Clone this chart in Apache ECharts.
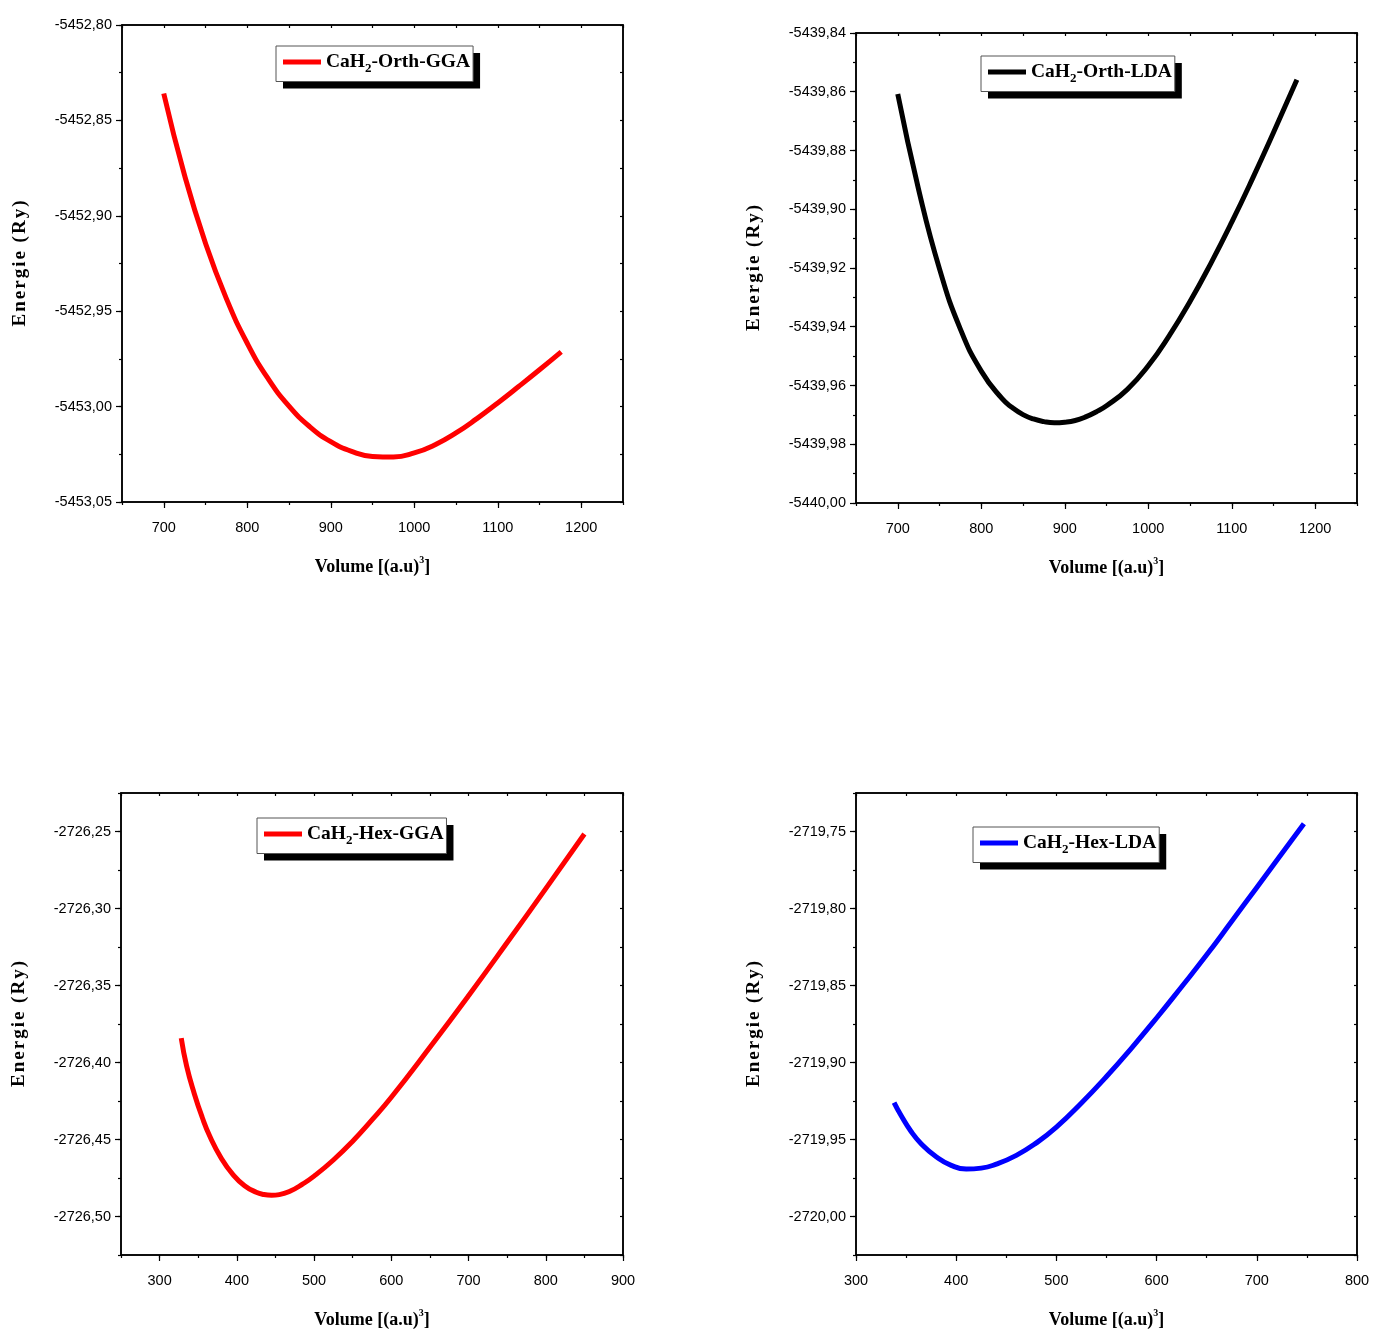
<!DOCTYPE html>
<html><head><meta charset="utf-8">
<script src="https://cdn.jsdelivr.net/npm/echarts@6/dist/echarts.min.js"></script>
<style>html,body{margin:0;padding:0;background:#fff}#c{width:1373px;height:1332px}</style>
</head><body><div id="c"></div>
<script>
// ---- Data ----
const volOrthGGA = [700, 725, 750, 775, 800, 825, 850, 875, 900, 925, 950, 975, 1000, 1025, 1050, 1075, 1100, 1125, 1150, 1176];
const eOrthGGA = [-5452.8359, -5452.8789, -5452.9144, -5452.9434, -5452.9668, -5452.9854, -5452.9998, -5453.0106, -5453.0184, -5453.0235, -5453.0261, -5453.0264, -5453.0243, -5453.0200, -5453.0138, -5453.0063, -5452.9981, -5452.9895, -5452.9807, -5452.9713];

const volOrthLDA = [700, 725, 750, 775, 800, 825, 837.5, 850, 862.5, 875, 887.5, 900, 912.5, 925, 937.5, 950, 975, 1000, 1025, 1050, 1075, 1100, 1125, 1150, 1178];
const eOrthLDA = [-5439.8608, -5439.8933, -5439.9203, -5439.9408, -5439.9551, -5439.9645, -5439.9676, -5439.9699, -5439.9714, -5439.9723, -5439.9727, -5439.9725, -5439.9719, -5439.9707, -5439.9690, -5439.9669, -5439.9613, -5439.9533, -5439.9431, -5439.9314, -5439.9184, -5439.9044, -5439.8895, -5439.8739, -5439.8559];

const volHexGGA = [328, 335, 345, 355, 365, 380, 395, 410, 425, 435, 445, 455, 470, 485, 500, 525, 550, 575, 600, 650, 700, 750, 800, 850];
const eHexGGA = [-2726.3842, -2726.4024, -2726.4204, -2726.4354, -2726.4479, -2726.4623, -2726.4728, -2726.4800, -2726.4842, -2726.4857, -2726.4862, -2726.4858, -2726.4833, -2726.4790, -2726.4738, -2726.4633, -2726.4511, -2726.4373, -2726.4226, -2726.3901, -2726.3566, -2726.3221, -2726.2871, -2726.2516];

const volHexLDA = [338, 345, 355, 365, 380, 395, 410, 425, 440, 460, 480, 500, 525, 550, 575, 600, 625, 650, 675, 700, 725, 747];
const eHexLDA = [-2719.9260, -2719.9344, -2719.9448, -2719.9527, -2719.9612, -2719.9668, -2719.9692, -2719.9686, -2719.9660, -2719.9603, -2719.9522, -2719.9420, -2719.9263, -2719.9091, -2719.8906, -2719.8711, -2719.8508, -2719.8301, -2719.8083, -2719.7863, -2719.7643, -2719.7449];

const seriesNames = ['CaH2-Orth-GGA', 'CaH2-Orth-LDA', 'CaH2-Hex-GGA', 'CaH2-Hex-LDA'];
const seriesColors = ['#ff0000', '#000000', '#ff0000', '#0000ff'];
const xRanges = [[650, 1250, 50, 100], [650, 1250, 50, 100], [250, 900, 50, 100], [300, 800, 50, 100]];
const yRanges = [[-5453.05, -5452.80, 0.025, 0.05], [-5440.00, -5439.84, 0.01, 0.02], [-2726.525, -2726.225, 0.025, 0.05], [-2720.025, -2719.725, 0.025, 0.05]];
const yTitle = 'Energie (Ry)';

// ---- Layout ----
const grids = [
  {left: 122, top: 25, width: 501, height: 477},
  {left: 856, top: 33, width: 501, height: 470},
  {left: 121, top: 793, width: 502, height: 462},
  {left: 856, top: 793, width: 501, height: 462}
];
const legendPos = [{left: 276, top: 46}, {left: 981, top: 56}, {left: 257, top: 818}, {left: 973, top: 827}];

function ticks(min, max, step) {
  const out = [];
  const k0 = Math.ceil(min / step - 1e-6), k1 = Math.floor(max / step + 1e-6);
  for (let k = k0; k <= k1; k++) out.push(Math.round(k * step * 1e6) / 1e6);
  return out;
}
const fmtY = v => v.toFixed(2).replace('.', ',');
const fmtX = v => String(Math.round(v));
const lineBlack = {show: true, lineStyle: {color: '#000', width: 1.5}};
const labelFont = {color: '#000', fontFamily: 'Liberation Sans', fontSize: 14.5};
const serif = 'Liberation Serif';

const yTitleRich = yTitle.split('').map(ch => '{c|' + ch + '}').join('');

const xAxes = [], yAxes = [], series = [], legends = [];
const datasets = [[volOrthGGA, eOrthGGA], [volOrthLDA, eOrthLDA], [volHexGGA, eHexGGA], [volHexLDA, eHexLDA]];

const legendFormatter = name => '{a|' + name.slice(0, 3) + '}{s|2}{a|' + name.slice(4) + '}';
function legendRich(color) {
  return {
    a: {fontFamily: serif, fontWeight: 'bold', fontSize: 19.5, color: color, lineHeight: 27},
    s: {fontFamily: serif, fontWeight: 'bold', fontSize: 13, color: color, lineHeight: 12, verticalAlign: 'bottom'}
  };
}

grids.forEach((g, i) => {
  const [xmin, xmax, xminor, xmajor] = xRanges[i];
  const [ymin, ymax, yminor, ymajor] = yRanges[i];
  const xMinorT = ticks(xmin, xmax, xminor), xMajorT = ticks(xmin, xmax, xmajor);
  const yMinorT = ticks(ymin, ymax, yminor), yMajorT = ticks(ymin, ymax, ymajor);
  const xBase = xAxes.length, yBase = yAxes.length;
  xAxes.push({gridIndex: i, type: 'value', position: 'bottom', min: xmin, max: xmax, interval: xminor,
    axisLine: lineBlack, splitLine: {show: false},
    axisTick: {show: true, inside: false, length: 3, customValues: xMinorT, lineStyle: {color: '#000', width: 1.2}},
    axisLabel: {show: false},
    name: '{a|Volume [(a.u)}{p|3}{a|]}', nameLocation: 'middle', nameGap: 53,
    nameTextStyle: {rich: {
      a: {fontFamily: serif, fontWeight: 'bold', fontSize: 18, color: '#000', lineHeight: 24},
      p: {fontFamily: serif, fontWeight: 'bold', fontSize: 10, color: '#000', verticalAlign: 'top', lineHeight: 10}
    }}
  });
  xAxes.push({gridIndex: i, type: 'value', position: 'bottom', min: xmin, max: xmax, interval: xmajor,
    axisLine: {show: false}, splitLine: {show: false},
    axisTick: {show: true, inside: false, length: 6, customValues: xMajorT, lineStyle: {color: '#000', width: 1.2}},
    axisLabel: Object.assign({show: true, margin: 18, customValues: xMajorT, formatter: fmtX}, labelFont)
  });
  xAxes.push({gridIndex: i, type: 'value', position: 'top', min: xmin, max: xmax, interval: xminor,
    axisLine: lineBlack, splitLine: {show: false},
    axisTick: {show: true, inside: true, length: 3, customValues: xMinorT, lineStyle: {color: '#000', width: 1.2}},
    axisLabel: {show: false}
  });
  yAxes.push({gridIndex: i, type: 'value', position: 'left', min: ymin, max: ymax, interval: yminor,
    axisLine: lineBlack, splitLine: {show: false},
    axisTick: {show: true, inside: false, length: 3, customValues: yMinorT, lineStyle: {color: '#000', width: 1.2}},
    axisLabel: {show: false},
    name: yTitleRich, nameLocation: 'middle', nameGap: 92, nameRotate: 90,
    nameTextStyle: {rich: {c: {fontFamily: serif, fontWeight: 'bold', fontSize: 19, color: '#000', padding: [0, 1, 0, 1]}}}
  });
  yAxes.push({gridIndex: i, type: 'value', position: 'left', min: ymin, max: ymax, interval: ymajor,
    axisLine: {show: false}, splitLine: {show: false},
    axisTick: {show: true, inside: false, length: 6, customValues: yMajorT, lineStyle: {color: '#000', width: 1.2}},
    axisLabel: Object.assign({show: true, margin: 10, customValues: yMajorT, formatter: fmtY}, labelFont)
  });
  yAxes.push({gridIndex: i, type: 'value', position: 'right', min: ymin, max: ymax, interval: yminor,
    axisLine: lineBlack, splitLine: {show: false},
    axisTick: {show: true, inside: true, length: 3, customValues: yMinorT, lineStyle: {color: '#000', width: 1.2}},
    axisLabel: {show: false}
  });

  const [vx, ey] = datasets[i];
  series.push({
    name: seriesNames[i], type: 'line', xAxisIndex: xBase, yAxisIndex: yBase,
    data: vx.map((v, k) => [v, ey[k]]), smooth: true, showSymbol: false, symbol: 'none',
    lineStyle: {color: seriesColors[i], width: 5, join: 'round', cap: 'butt'}, itemStyle: {color: seriesColors[i]}
  });

  const common = {
    data: [seriesNames[i]], left: legendPos[i].left, top: legendPos[i].top, orient: 'horizontal',
    icon: 'rect', itemWidth: 38, itemHeight: 5, padding: [6, 3, 6, 7], selectedMode: false,
    formatter: legendFormatter
  };
  legends.push(Object.assign({}, common, {
    backgroundColor: '#fff', borderWidth: 0,
    shadowColor: '#000', shadowBlur: 0, shadowOffsetX: 7, shadowOffsetY: 7,
    textStyle: {rich: legendRich('#000')}
  }));
  legends.push(Object.assign({}, common, {
    backgroundColor: 'transparent', borderColor: '#555', borderWidth: 1,
    itemStyle: {opacity: 0},
    textStyle: {rich: legendRich('rgba(0,0,0,0)')}
  }));
});

const chart = echarts.init(document.getElementById('c'), null, {renderer: 'canvas'});
chart.setOption({
  animation: false,
  backgroundColor: '#fff',
  grid: grids.map(g => Object.assign({show: true, borderColor: '#000', borderWidth: 1.5, backgroundColor: 'transparent', containLabel: false}, g)),
  xAxis: xAxes, yAxis: yAxes, legend: legends, series: series
});
</script></body></html>
